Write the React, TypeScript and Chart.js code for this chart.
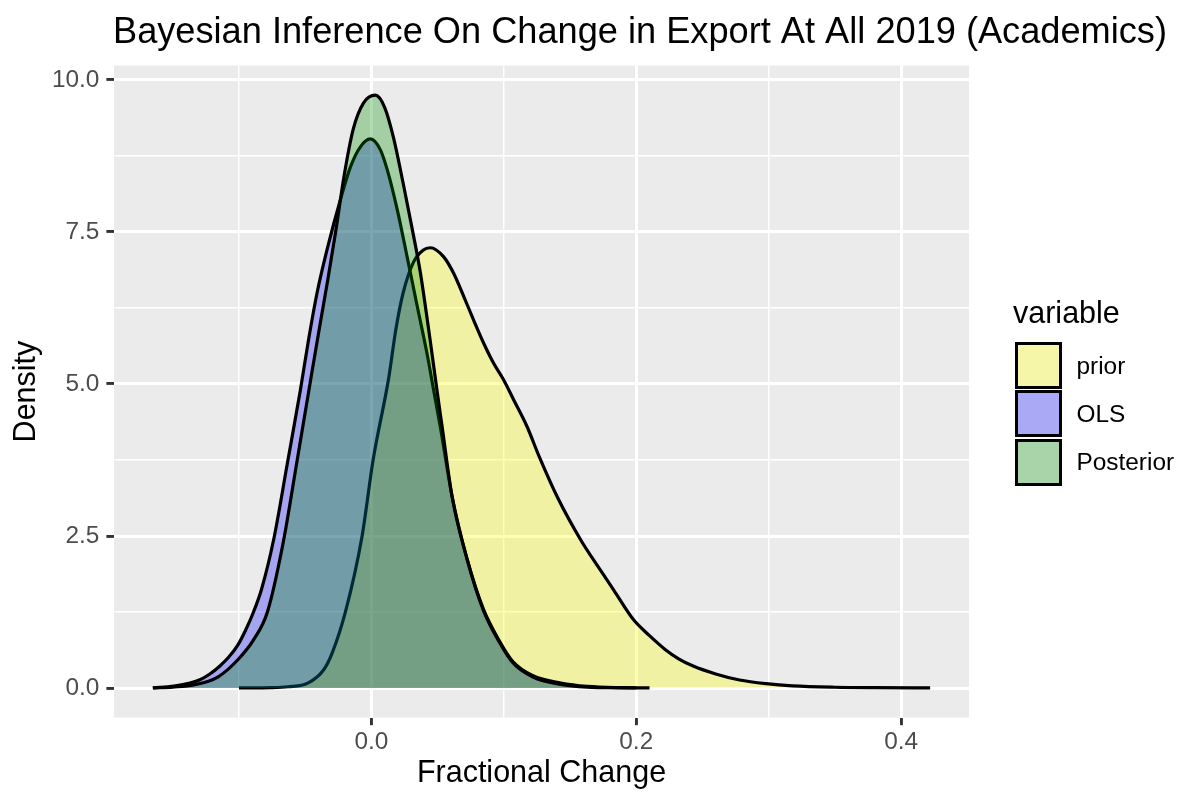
import { useEffect, useRef } from 'react';
import { Chart, registerables } from 'chart.js';

Chart.register(...registerables);

const FONT = '"Liberation Sans", Arial, Helvetica, sans-serif';

const TITLE = 'Bayesian Inference On Change in Export At All 2019 (Academics)';
const X_TITLE = 'Fractional Change';
const Y_TITLE = 'Density';
const LEGEND_TITLE = 'variable';
const SERIES_NAMES = ['prior', 'OLS', 'Posterior'];

// density curves (x = fractional change, y = density)
const PRIOR_X = [
  -0.1, -0.075, -0.063, -0.048, -0.036, -0.0297, -0.0196, -0.007, 0.0013, 0.0131, 0.0185, 0.024,
  0.0317, 0.039, 0.0445, 0.0546, 0.0621, 0.0697, 0.0772, 0.0848, 0.0923, 0.0998, 0.1074, 0.1175,
  0.1268, 0.1404, 0.159, 0.168, 0.183, 0.198, 0.21, 0.222, 0.232, 0.243, 0.26, 0.278, 0.298, 0.318,
  0.35, 0.38, 0.4219,
];
const PRIOR_Y = [
  0, 0.005, 0.02, 0.08, 0.3, 0.57, 1.25, 2.5, 3.75, 5.1, 5.9, 6.5, 7.0, 7.2, 7.24, 7.09, 6.82, 6.44,
  6.05, 5.67, 5.34, 5.07, 4.74, 4.3, 3.8, 3.14, 2.4, 2.1, 1.61, 1.12, 0.86, 0.63, 0.48, 0.36, 0.23,
  0.13, 0.07, 0.035, 0.012, 0.004, 0,
];

const OLS_X = [
  -0.165, -0.149, -0.137, -0.129, -0.122, -0.115, -0.108, -0.101, -0.095, -0.089, -0.083, -0.0737,
  -0.0634, -0.0536, -0.0475, -0.041, -0.033, -0.0234, -0.0158, -0.0083, -0.0008, 0.0068, 0.012,
  0.0196, 0.027, 0.0347, 0.042, 0.047, 0.052, 0.061, 0.0725, 0.0845, 0.097, 0.107, 0.122, 0.143,
  0.163, 0.19, 0.21,
];
const OLS_Y = [
  0, 0.03, 0.08, 0.14, 0.23, 0.35, 0.5, 0.7, 0.95, 1.25, 1.62, 2.45, 3.7, 4.9, 5.72, 6.5, 7.25, 8.03,
  8.57, 8.9, 9.03, 8.85, 8.52, 7.86, 7.09, 6.27, 5.5, 4.9, 4.3, 3.14, 2.1, 1.3, 0.76, 0.43, 0.2, 0.08,
  0.025, 0.004, 0,
];

const POSTERIOR_X = [
  -0.165, -0.15, -0.134, -0.116, -0.101, -0.089, -0.0785, -0.0665, -0.056, -0.046, -0.039, -0.033,
  -0.027, -0.0204, -0.0136, -0.006, 0.003, 0.01, 0.0166, 0.024, 0.031, 0.037, 0.0445, 0.0495,
  0.0534, 0.061, 0.0725, 0.0845, 0.097, 0.107, 0.122, 0.143, 0.163, 0.19, 0.2,
];
const POSTERIOR_Y = [
  0, 0.015, 0.05, 0.18, 0.46, 0.79, 1.25, 2.4, 3.75, 5.05, 5.95, 6.7, 7.5, 8.45, 9.2, 9.62, 9.75,
  9.55, 9.06, 8.3, 7.53, 6.83, 5.7, 4.9, 4.3, 3.14, 2.1, 1.28, 0.74, 0.41, 0.18, 0.06, 0.015, 0.002,
  0,
];

const X_MAJOR = [0, 0.2, 0.4];
const X_MAJOR_LABELS = ['0.0', '0.2', '0.4'];
const X_MINOR = [-0.1, 0.1, 0.3];
const Y_MAJOR = [0, 2.5, 5, 7.5, 10];
const Y_MAJOR_LABELS = ['0.0', '2.5', '5.0', '7.5', '10.0'];
const Y_MINOR = [1.25, 3.75, 6.25, 8.75];

const FILLS = ['rgba(255,255,0,0.3)', 'rgba(0,0,255,0.3)', 'rgba(0,139,0,0.3)'];

const near = (a: number, b: number) => Math.abs(a - b) < 1e-9;
const majorIndex = (list: number[], v: number) => list.findIndex((m) => near(m, v));

const panelPlugin = {
  id: 'panel',
  beforeDraw(chart: any) {
    const { ctx, chartArea: a } = chart;
    ctx.save();
    ctx.fillStyle = '#ebebeb';
    ctx.fillRect(a.left, a.top, a.right - a.left, a.bottom - a.top);
    ctx.restore();
  },
  afterDraw(chart: any) {
    const { ctx, chartArea: a } = chart;
    ctx.save();
    ctx.font = `36.2px ${FONT}`;
    ctx.fillStyle = '#000000';
    ctx.textAlign = 'left';
    ctx.textBaseline = 'alphabetic';
    ctx.fillText(TITLE, a.left - 1, 43);
    ctx.restore();
  },
};

export default function App() {
  const canvasRef = useRef<HTMLCanvasElement>(null);
  const chartRef = useRef<Chart | null>(null);

  useEffect(() => {
    if (!canvasRef.current) return;
    if (chartRef.current) chartRef.current.destroy();

    const xs = [...PRIOR_X, ...OLS_X, ...POSTERIOR_X];
    const ys = [...PRIOR_Y, ...OLS_Y, ...POSTERIOR_Y];
    const xLo = Math.min(...xs);
    const xHi = Math.max(...xs);
    const xPad = (xHi - xLo) * 0.05;
    const yHi = Math.max(...ys);
    const yPad = yHi * 0.05;

    const series = [
      [PRIOR_X, PRIOR_Y],
      [OLS_X, OLS_Y],
      [POSTERIOR_X, POSTERIOR_Y],
    ];

    chartRef.current = new Chart(canvasRef.current, {
      type: 'line',
      data: {
        datasets: series.map(([sx, sy], i) => ({
          label: SERIES_NAMES[i],
          data: sx.map((x, j) => ({ x, y: sy[j] })),
          borderColor: '#000000',
          borderWidth: 3.2,
          backgroundColor: FILLS[i],
          fill: 'origin',
          pointRadius: 0,
          cubicInterpolationMode: 'monotone',
          order: 3 - i,
        })),
      },
      options: {
        responsive: false,
        animation: false,
        events: [],
        layout: { padding: { top: 65.5, right: 213, bottom: 0, left: 0 } },
        plugins: {
          legend: { display: false },
          tooltip: { enabled: false },
          title: { display: false },
        },
        scales: {
          x: {
            type: 'linear',
            min: xLo - xPad,
            max: xHi + xPad,
            afterBuildTicks: (s: any) => {
              s.ticks = [...X_MINOR, ...X_MAJOR].sort((a, b) => a - b).map((value) => ({ value }));
            },
            afterFit: (s: any) => {
              s.height = 74.4;
            },
            ticks: {
              autoSkip: false,
              maxRotation: 0,
              padding: 2.5,
              color: '#4d4d4d',
              font: { family: FONT, size: 24.4 },
              callback: (v: any) => {
                const k = majorIndex(X_MAJOR, Number(v));
                return k >= 0 ? X_MAJOR_LABELS[k] : '';
              },
            },
            grid: {
              color: '#ffffff',
              lineWidth: (c: any) => (majorIndex(X_MAJOR, c.tick.value) >= 0 ? 2.9 : 1.45),
              tickLength: 7.6,
              tickWidth: 2.9,
              tickColor: (c: any) =>
                majorIndex(X_MAJOR, c.tick.value) >= 0 ? '#333333' : 'rgba(0,0,0,0)',
            },
            border: { display: false },
            title: {
              display: true,
              text: X_TITLE,
              color: '#000000',
              font: { family: FONT, size: 30.5, lineHeight: 1 },
              padding: { top: 0, bottom: 3.4 },
            },
          },
          y: {
            type: 'linear',
            min: -yPad,
            max: yHi + yPad,
            afterBuildTicks: (s: any) => {
              s.ticks = [...Y_MINOR, ...Y_MAJOR].sort((a, b) => a - b).map((value) => ({ value }));
            },
            afterFit: (s: any) => {
              s.width = 114;
            },
            ticks: {
              autoSkip: false,
              padding: 7,
              color: '#4d4d4d',
              font: { family: FONT, size: 24.4 },
              callback: (v: any) => {
                const k = majorIndex(Y_MAJOR, Number(v));
                return k >= 0 ? Y_MAJOR_LABELS[k] : '';
              },
            },
            grid: {
              color: '#ffffff',
              lineWidth: (c: any) => (majorIndex(Y_MAJOR, c.tick.value) >= 0 ? 2.9 : 1.45),
              tickLength: 7.6,
              tickWidth: 2.9,
              tickColor: (c: any) =>
                majorIndex(Y_MAJOR, c.tick.value) >= 0 ? '#333333' : 'rgba(0,0,0,0)',
            },
            border: { display: false },
            title: {
              display: true,
              text: Y_TITLE,
              color: '#000000',
              font: { family: FONT, size: 30.5, lineHeight: 1 },
              padding: { top: 11, bottom: 0 },
            },
          },
        },
      },
      plugins: [panelPlugin],
    } as any);

    return () => {
      if (chartRef.current) {
        chartRef.current.destroy();
        chartRef.current = null;
      }
    };
  }, []);

  return (
    <div
      style={{
        position: 'absolute',
        left: 0,
        top: 0,
        width: 1182,
        height: 792,
        background: '#ffffff',
        fontFamily: FONT,
      }}
    >
      <canvas
        ref={canvasRef}
        width={1182}
        height={792}
        style={{ position: 'absolute', left: 0, top: 0, width: 1182, height: 792 }}
      />
      <div
        style={{
          position: 'absolute',
          left: 1013,
          top: 297,
          fontSize: 30.5,
          lineHeight: '30px',
          color: '#000000',
          whiteSpace: 'nowrap',
        }}
      >
        {LEGEND_TITLE}
      </div>
      {SERIES_NAMES.map((name, i) => (
        <div
          key={name}
          style={{
            position: 'absolute',
            left: 1015,
            top: 342 + i * 48.3,
            height: 47,
            display: 'flex',
            alignItems: 'center',
          }}
        >
          <div
            style={{
              width: 47,
              height: 47,
              boxSizing: 'border-box',
              border: '3px solid #000000',
              backgroundColor: '#f2f2f2',
              backgroundImage: `linear-gradient(${FILLS[i]}, ${FILLS[i]})`,
            }}
          />
          <span
            style={{
              marginLeft: 14.5,
              fontSize: 24.4,
              lineHeight: '24px',
              color: '#000000',
              whiteSpace: 'nowrap',
            }}
          >
            {name}
          </span>
        </div>
      ))}
    </div>
  );
}
